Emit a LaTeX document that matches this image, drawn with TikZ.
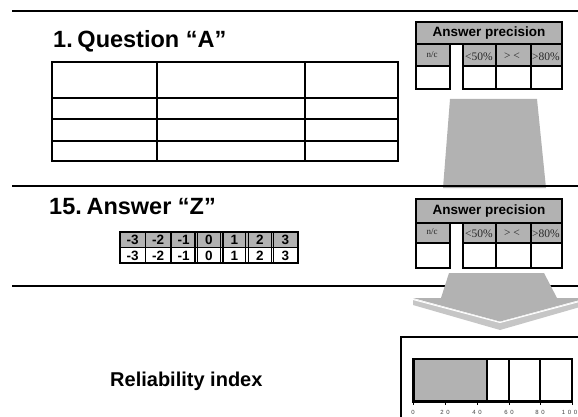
\documentclass[tikz,border=0pt]{standalone}
\usepackage{fontspec}
\setmainfont{Liberation Sans}
\newfontfamily\serifface{Liberation Serif}
\newfontfamily\tickface[LetterSpace=45]{Liberation Sans}
\definecolor{boxgray}{RGB}{178,178,178}
\definecolor{bevelgray}{RGB}{198,198,198}
\begin{document}
\begin{tikzpicture}[x=1pt,y=-1pt,
  rule/.style={line width=1.6pt, black},
  grid/.style={line width=1.5pt, black},
  heading/.style={font=\fontsize{23.5}{25}\selectfont\bfseries, anchor=base west, inner sep=0pt},
  boxtitle/.style={font=\fontsize{13.5}{15}\selectfont\bfseries, inner sep=0pt},
  caplabel/.style={font=\serifface\fontsize{11.5}{12}\selectfont, inner sep=0pt, text=black!85},
  digit/.style={font=\fontsize{13.5}{14}\selectfont\bfseries, inner sep=0pt, anchor=base},
  ticklabel/.style={font=\tickface\fontsize{6}{7}\selectfont, inner sep=0pt, text=black!75},
  arrowfill/.style={fill=boxgray, draw=none}
]
\useasboundingbox (0,0) rectangle (578,417);
\clip (0,0) rectangle (578,417);

% ---------- section 1 ----------
\draw[rule] (12,11) -- (578,11);
\node[heading] (qA) at (53,48) {1.\hspace{0.2em}Question “A”};
\draw[grid] (52,62) rectangle (398,161);
\foreach \yy in {98,119,141} \draw[grid] (52,\yy) -- (398,\yy);
\foreach \xx in {157,305} \draw[grid] (\xx,62) -- (\xx,161);

% answer precision box 1
\draw[grid, fill=boxgray] (416,22) rectangle (562,44);
\node[boxtitle] (ap1) at (489,33.5) {Answer precision};
\foreach \xa/\xb in {416/450,463/496,496/531,531/562} {
  \draw[grid, fill=boxgray] (\xa,44) rectangle (\xb,66);
  \draw[grid, fill=white] (\xa,66) rectangle (\xb,89);
}
\node[caplabel, font=\serifface\fontsize{9}{10}\selectfont] (nc1) at (432,55) {n/c};
\node[caplabel, anchor=west] (lt1) at (465,56.5) {<50\%};
\node[caplabel] (mid1) at (512,56.5) {> <};
\node[caplabel, anchor=west] (gt1) at (532,56.5) {>80\%};

% arrow 1
\path[arrowfill] (450,99) -- (537,99) -- (546,188) -- (443,188) -- cycle;

% ---------- section 2 ----------
\draw[rule] (12,186) -- (578,186);
\node[heading] (aZ) at (49,214) {15.\hspace{0.2em}Answer “Z”};
% scale table
\fill[boxgray] (120,232) rectangle (298,247.5);
\foreach \v [count=\i from 0] in {-3,-2,-1,0,1,2,3} {
  \pgfmathsetmacro\xc{120+25.43*\i+12.7}
  \node[digit] (su\i) at (\xc,244.6) {\v};
  \node[digit] (sl\i) at (\xc,260.1) {\v};
}
\draw[grid] (120,232) rectangle (298,263);
\draw[grid] (120,247.5) -- (298,247.5);
\foreach \xx in {145.4,170.9} \draw[grid] (\xx,232) -- (\xx,263);
\foreach \xx in {196.3,221.7,247.1,272.6} {
  \draw[line width=1.1pt] (\xx-1.3,232) -- (\xx-1.3,263);
  \draw[line width=1.1pt] (\xx+1.3,232) -- (\xx+1.3,263);
}

% answer precision box 2
\draw[grid, fill=boxgray] (416,199) rectangle (562,223);
\node[boxtitle] (ap2) at (489,211) {Answer precision};
\foreach \xa/\xb in {416/450,463/496,496/531,531/562} {
  \draw[grid, fill=boxgray] (\xa,223) rectangle (\xb,243);
  \draw[grid, fill=white] (\xa,243) rectangle (\xb,268);
}
\node[caplabel, font=\serifface\fontsize{9}{10}\selectfont] (nc2) at (432,232) {n/c};
\node[caplabel, anchor=west] (lt2) at (465,233.5) {<50\%};
\node[caplabel] (mid2) at (512,233.5) {> <};
\node[caplabel, anchor=west] (gt2) at (532,233.5) {>80\%};

% ---------- section 3 ----------
\draw[rule] (12,286) -- (578,286);
% 3D arrow 2
\path[fill=bevelgray] (413,299) -- (500,322) -- (587,299) -- (587,305) -- (500,330) -- (413,305) -- cycle;
\path[arrowfill] (449,273) -- (544,273) -- (557,298) -- (587,298) -- (500,321.5) -- (413,298) -- (441,298) -- cycle;
\draw[white, line width=1pt] (413,299.5) -- (500,322.5) -- (587,299.5);

\node[font=\fontsize{20}{22}\selectfont\bfseries, anchor=base west, inner sep=0pt] (rel) at (110,386) {Reliability index};

% reliability box
\draw[line width=1.5pt] (401,417) -- (401,337) -- (578,337);
\fill[boxgray] (413,359) rectangle (487,401);
\draw[line width=1.3pt] (413,359) rectangle (572,401);
\foreach \xx in {487,509,540} \draw[line width=1.3pt] (\xx,359) -- (\xx,401);
\draw[line width=3pt] (413,358) -- (413,402.5);
\draw[line width=3pt] (412,401) -- (573,401);
\foreach \xx/\lab [count=\k] in {413/0,445/20,477/40,509/60,540/80} {
  \draw[line width=0.8pt] (\xx,401) -- (\xx,405);
  \node[ticklabel] (tk\k) at (\xx,412) {\lab};
}
\draw[line width=0.8pt] (572,401) -- (572,405);
\node[ticklabel, anchor=east] (tk6) at (577.5,412) {100};
\end{tikzpicture}
\end{document}
